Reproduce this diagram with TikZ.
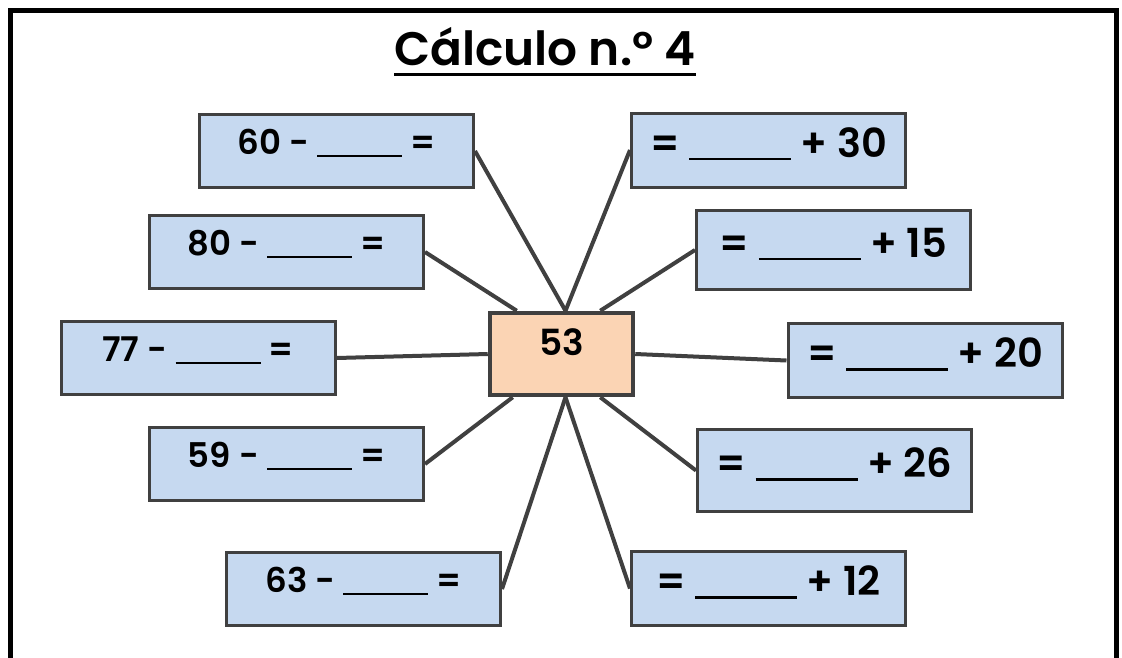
\documentclass[tikz,border=0pt]{standalone}
\usepackage{fontspec}
\setmainfont{Poppins}[BoldFont={Poppins SemiBold}]
\usetikzlibrary{backgrounds}
\definecolor{boxblue}{HTML}{C6D9F0}
\definecolor{boxpeach}{HTML}{FBD4B4}
\definecolor{edgegray}{HTML}{404040}
\newcommand{\blank}[1]{\rule[-3pt]{#1}{2.5pt}}

\begin{document}
\begin{tikzpicture}[x=1pt, y=-1pt,
    leftbox/.style={draw=edgegray, line width=3pt, fill=boxblue,
        minimum width=274pt, minimum height=73pt,
        font=\fontsize{34}{40}\selectfont\bfseries,
        text height=24pt, text depth=18pt},
    rightbox/.style={draw=edgegray, line width=3pt, fill=boxblue,
        minimum width=274pt, minimum height=74pt,
        font=\fontsize{40}{48}\selectfont\bfseries,
        text height=30pt, text depth=16pt},
    spoke/.style={draw=edgegray, line width=4pt}]

    \useasboundingbox (0,0) rectangle (1122,657);

    % Draw the outer frame
    \draw[line width=5pt] (10,700) -- (10,10) -- (1116,10) -- (1116,700);

    % Title
    \node[inner sep=0pt, font=\fontsize{47}{56}\selectfont\bfseries] (ttl) at (545,47) {Cálculo n.º 4};
    \draw[line width=3pt] ([yshift=-9pt]ttl.base west) -- ([yshift=-9pt]ttl.base east);

    % The number in the middle
    \node[draw=edgegray, line width=4.5pt, fill=boxpeach, minimum width=143pt, minimum height=82pt,
        font=\fontsize{36}{44}\selectfont\bfseries, text height=26pt, text depth=24pt] (c) at (561.5,354) {53};

    % Left boxes
    \node[leftbox] (l1) at (336.5,151) {60 - \blank{85pt} =};
    \node[leftbox] (l2) at (286.5,252) {80 - \blank{85pt} =};
    \node[leftbox] (l3) at (198,358) {77 - \blank{85pt} =};
    \node[leftbox] (l4) at (286.5,464) {59 - \blank{85pt} =};
    \node[leftbox] (l5) at (363.5,589) {63 - \blank{85pt} =};

    % Right boxes
    \node[rightbox] (r1) at (768.5,150) {= \blank{102pt} + 30};
    \node[rightbox, minimum height=79pt] (r2) at (833.5,250) {= \blank{102pt} + 15};
    \node[rightbox] (r3) at (925,360.5) {= \blank{102pt} + 20};
    \node[rightbox, minimum height=82pt] (r4) at (834.5,470.5) {= \blank{102pt} + 26};
    \node[rightbox] (r5) at (768.5,588.5) {= \blank{102pt} + 12};

    % Spokes from the boxes to the middle
    \begin{scope}[on background layer]
    \draw[spoke] (l1.east) -- ([xshift=4pt]c.north);
    \draw[spoke] (l2.east) -- ([xshift=29pt]c.north west);
    \draw[spoke] (l3.east) -- (c.west);
    \draw[spoke] (l4.east) -- ([xshift=25pt]c.south west);
    \draw[spoke] (l5.east) -- ([xshift=4pt]c.south);
    \draw[spoke] (r1.west) -- ([xshift=4pt]c.north);
    \draw[spoke] (r2.west) -- ([xshift=-35pt]c.north east);
    \draw[spoke] (r3.west) -- (c.east);
    \draw[spoke] (r4.west) -- ([xshift=-35pt]c.south east);
    \draw[spoke] (r5.west) -- ([xshift=4pt]c.south);
    \end{scope}
\end{tikzpicture}
\end{document}
